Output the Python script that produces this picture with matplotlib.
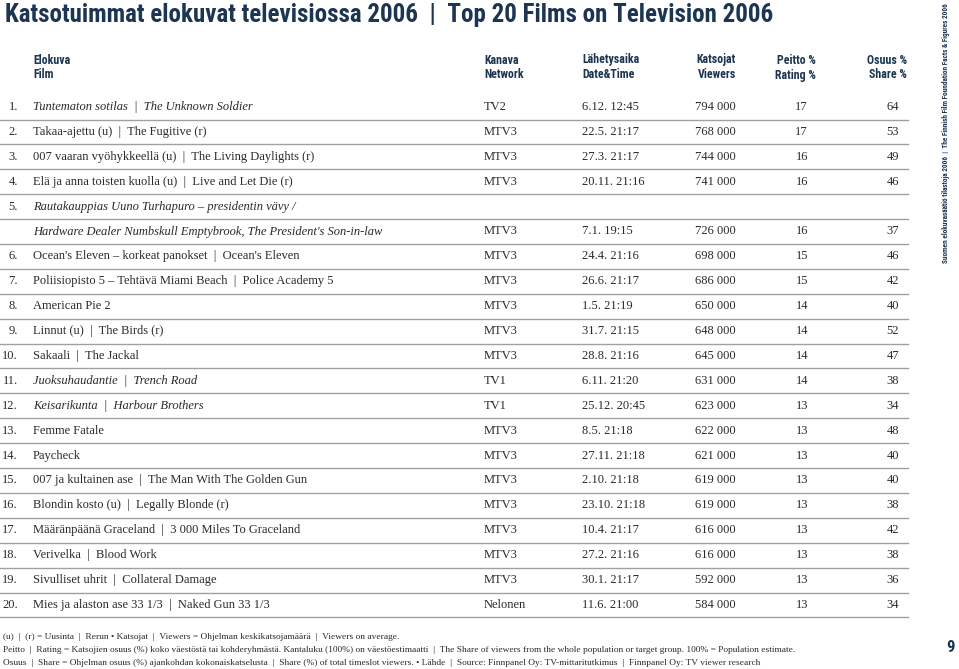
import matplotlib
matplotlib.use("Agg")
import matplotlib.pyplot as plt
from matplotlib import font_manager

# data
ranks = ["1.", "2.", "3.", "4.", "5.", "6.", "7.", "8.", "9.", "10.",
         "11.", "12.", "13.", "14.", "15.", "16.", "17.", "18.", "19.", "20."]
titles = [
    "Tuntematon sotilas  |  The Unknown Soldier",
    "Takaa-ajettu (u)  |  The Fugitive (r)",
    "007 vaaran vyöhykkeellä (u)  |  The Living Daylights (r)",
    "Elä ja anna toisten kuolla (u)  |  Live and Let Die (r)",
    "Rautakauppias Uuno Turhapuro – presidentin vävy /",
    "Ocean's Eleven – korkeat panokset  |  Ocean's Eleven",
    "Poliisiopisto 5 – Tehtävä Miami Beach  |  Police Academy 5",
    "American Pie 2",
    "Linnut (u)  |  The Birds (r)",
    "Sakaali  |  The Jackal",
    "Juoksuhaudantie  |  Trench Road",
    "Keisarikunta  |  Harbour Brothers",
    "Femme Fatale",
    "Paycheck",
    "007 ja kultainen ase  |  The Man With The Golden Gun",
    "Blondin kosto (u)  |  Legally Blonde (r)",
    "Määränpäänä Graceland  |  3 000 Miles To Graceland",
    "Verivelka  |  Blood Work",
    "Sivulliset uhrit  |  Collateral Damage",
    "Mies ja alaston ase 33 1/3  |  Naked Gun 33 1/3",
]
title_line2 = {4: "Hardware Dealer Numbskull Emptybrook, The President's Son-in-law"}
domestic = [0, 4, 10, 11]  # finnish films, set in italics
networks = ["TV2", "MTV3", "MTV3", "MTV3", "MTV3", "MTV3", "MTV3", "MTV3", "MTV3", "MTV3",
            "TV1", "TV1", "MTV3", "MTV3", "MTV3", "MTV3", "MTV3", "MTV3", "MTV3", "Nelonen"]
dates = ["6.12. 12:45", "22.5. 21:17", "27.3. 21:17", "20.11. 21:16", "7.1. 19:15",
         "24.4. 21:16", "26.6. 21:17", "1.5. 21:19", "31.7. 21:15", "28.8. 21:16",
         "6.11. 21:20", "25.12. 20:45", "8.5. 21:18", "27.11. 21:18", "2.10. 21:18",
         "23.10. 21:18", "10.4. 21:17", "27.2. 21:16", "30.1. 21:17", "11.6. 21:00"]
viewers = [794000, 768000, 744000, 741000, 726000, 698000, 686000, 650000, 648000, 645000,
           631000, 623000, 622000, 621000, 619000, 619000, 616000, 616000, 592000, 584000]
rating = [17, 17, 16, 16, 16, 15, 15, 14, 14, 14, 14, 13, 13, 13, 13, 13, 13, 13, 13, 13]
share = [64, 53, 49, 46, 37, 46, 42, 40, 52, 47, 38, 34, 48, 40, 40, 38, 42, 38, 36, 34]

headers_fi = ["Elokuva", "Kanava", "Lähetysaika", "Katsojat", "Peitto %", "Osuus %"]
headers_en = ["Film", "Network", "Date&Time", "Viewers", "Rating %", "Share %"]

footer = [
    "(u)  |  (r) = Uusinta  |  Rerun • Katsojat  |  Viewers = Ohjelman keskikatsojamäärä  |  Viewers on average.",
    "Peitto  |  Rating = Katsojien osuus (%) koko väestöstä tai kohderyhmästä. Kantaluku (100%) on väestöestimaatti  |  "
    "The Share of viewers from the whole population or target group. 100% = Population estimate.",
    "Osuus  |  Share = Ohjelman osuus (%) ajankohdan kokonaiskatselusta  |  Share (%) of total timeslot viewers. • Lähde  |  "
    "Source: Finnpanel Oy: TV-mittaritutkimus  |  Finnpanel Oy: TV viewer research",
]

# pick a narrow sans if one is around
names = {f.name for f in font_manager.fontManager.ttflist}
cond = "DejaVu Sans"
for cand in ["Liberation Sans Narrow", "Roboto Condensed", "Open Sans Condensed", "DejaVu Sans Condensed"]:
    if cand in names:
        cond = cand
        break
serif = "Liberation Serif"
navy = "#1c3552"
ink = "#2a2a2a"
hd = dict(family=cond, weight="bold", stretch="condensed", color=navy)

fig = plt.figure(figsize=(9.59, 6.69), dpi=100)
ax = fig.add_axes([0, 0, 1, 1])
ax.set_xlim(0, 959)
ax.set_ylim(669, 0)
ax.axis("off")

ax.text(5, 15, "Katsotuimmat elokuvat televisiossa 2006  |  Top 20 Films on Television 2006",
        fontsize=18, va="center", ha="left", **hd)

# column x positions and alignment
cols = [(33, "left"), (484, "left"), (582, "left"), (736, "right"), (816, "right"), (907, "right")]
for (x, ha), fi, en in zip(cols, headers_fi, headers_en):
    ax.text(x, 60, fi, fontsize=8.6, ha=ha, va="center", **hd)
    ax.text(x, 75, en, fontsize=8.6, ha=ha, va="center", **hd)

# rows
step = 24.9
y = 107
for i in range(len(ranks)):
    style = "italic" if i in domestic else "normal"
    kw = dict(family=serif, fontsize=9.0, color=ink, va="center")
    ax.text(18, y, ranks[i], ha="right", **kw)
    ax.text(33, y, titles[i], ha="left", style=style, **kw)
    if i in title_line2:
        ax.plot([0, 908], [y + 12.5, y + 12.5], color="#a0a0a0", lw=1)
        y += step
        ax.text(33, y, title_line2[i], ha="left", style=style, **kw)
    ax.text(484, y, networks[i], ha="left", **kw)
    ax.text(582, y, dates[i], ha="left", **kw)
    ax.text(736, y, f"{viewers[i]:,}".replace(",", " "), ha="right", **kw)
    ax.text(808, y, str(rating[i]), ha="right", **kw)
    ax.text(899, y, str(share[i]), ha="right", **kw)
    ax.plot([0, 908], [y + 12.5, y + 12.5], color="#a0a0a0", lw=1)
    y += step

for k, line in enumerate(footer):
    ax.text(3, 637 + k * 12.8, line, family=serif, fontsize=6.75, color=ink, ha="left", va="center")

ax.text(950, 648, "9", fontsize=12, ha="center", va="center", **hd)
ax.text(946, 133, "Suomen elokuvasäätiö tilastoja 2006  |  The Finnish Film Foundation Facts & Figures 2006",
        fontsize=5.2, rotation=90, ha="center", va="center", **hd)

fig.savefig("out.png", dpi=100)
